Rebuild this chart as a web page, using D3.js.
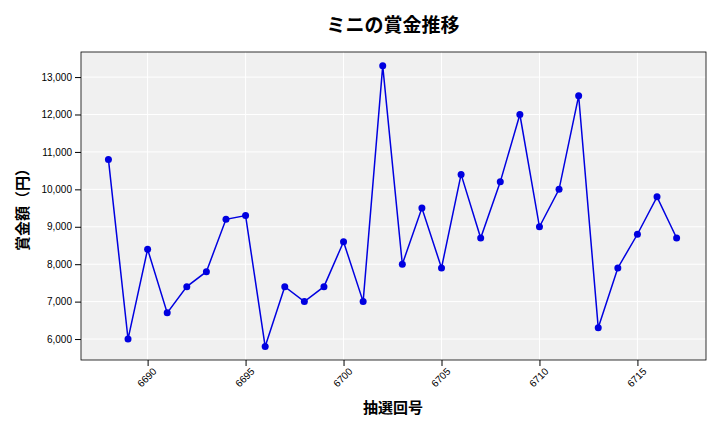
<!DOCTYPE html>
<html><head><meta charset="utf-8">
<script src="https://cdn.jsdelivr.net/npm/d3@7"></script>
<style>body{margin:0;background:#fff;font-family:"Noto Sans CJK JP","DejaVu Sans",sans-serif;}</style>
</head><body>
<script>
var draws = d3.range(6688, 6718);
var prizes = [10800,6000,8400,6700,7400,7800,9200,9300,5800,7400,7000,7400,8600,7000,13300,
  8000,9500,7900,10400,8700,10200,12000,9000,10000,12500,6300,7900,8800,9800,8700];
var xTicks = [6690,6695,6700,6705,6710,6715];
var yTicks = [6000,7000,8000,9000,10000,11000,12000,13000];

var margin = {top: 52, right: 14, bottom: 72, left: 81};
var width = 720 - margin.left - margin.right;
var height = 432 - margin.top - margin.bottom;

var svg = d3.select("body").append("svg").attr("width", 720).attr("height", 432);
var g = svg.append("g").attr("transform", "translate(" + margin.left + "," + margin.top + ")");

var x = d3.scaleLinear().domain([6686.6, 6718.5]).range([0, width]);
var y = d3.scaleLinear().domain([5440, 13670]).range([height, 0]);

g.append("rect").attr("width", width).attr("height", height).attr("fill", "#f0f0f0");

// grid
g.selectAll(".gx").data(xTicks).enter().append("line")
  .attr("x1", x).attr("x2", x).attr("y1", 0).attr("y2", height)
  .attr("stroke", "#fff").attr("stroke-width", 1);
g.selectAll(".gy").data(yTicks).enter().append("line")
  .attr("y1", y).attr("y2", y).attr("x1", 0).attr("x2", width)
  .attr("stroke", "#fff").attr("stroke-width", 1);

g.append("rect").attr("width", width).attr("height", height)
  .attr("fill", "none").attr("stroke", "#000").attr("stroke-width", 0.8);

var xAxis = g.append("g").attr("transform", "translate(0," + height + ")")
  .call(d3.axisBottom(x).tickValues(xTicks).tickFormat(d3.format("d")).tickSizeOuter(0));
xAxis.select(".domain").remove();
xAxis.selectAll("text").attr("transform", "rotate(-45)").style("text-anchor", "end")
  .attr("dx", "-0.2em").attr("dy", "0.6em").style("font-size", "10px");

var yAxis = g.append("g")
  .call(d3.axisLeft(y).tickValues(yTicks).tickFormat(d3.format(",")).tickSizeOuter(0));
yAxis.select(".domain").remove();
yAxis.selectAll("text").style("font-size", "10px");

var line = d3.line().x(function(d, i) { return x(draws[i]); }).y(function(d) { return y(d); });
g.append("path").datum(prizes).attr("fill", "none").attr("stroke", "#0000e0")
  .attr("stroke-width", 1.5).attr("d", line);
g.selectAll(".pt").data(prizes).enter().append("circle")
  .attr("cx", function(d, i) { return x(draws[i]); }).attr("cy", y)
  .attr("r", 3.5).attr("fill", "#0000e0");

svg.append("text").attr("x", 393).attr("y", 32).attr("text-anchor", "middle")
  .style("font-size", "19px").style("font-weight", "bold").text("ミニの賞金推移");
svg.append("text").attr("x", 393).attr("y", 413).attr("text-anchor", "middle")
  .style("font-size", "15px").style("font-weight", "bold").text("抽選回号");
svg.append("text").attr("transform", "translate(28,206) rotate(-90)").attr("text-anchor", "middle")
  .style("font-size", "15px").style("font-weight", "bold").text("賞金額（円）");
</script>
</body></html>
